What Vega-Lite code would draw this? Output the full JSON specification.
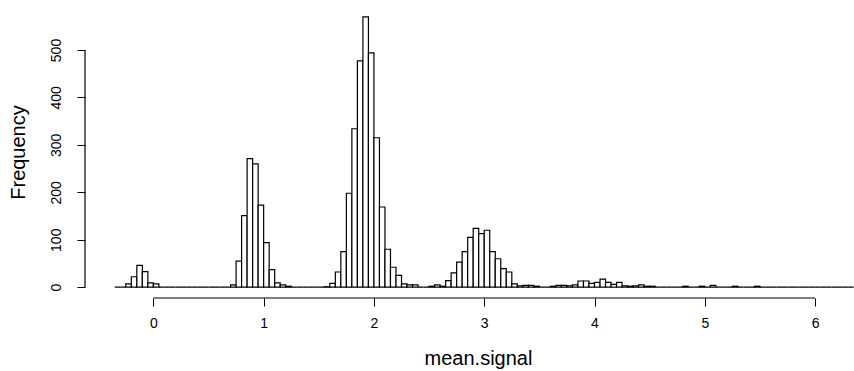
{
  "$schema": "https://vega.github.io/schema/vega-lite/v6.json",
  "width": 769,
  "height": 292,
  "autosize": {"type": "none"},
  "padding": {"left": 85, "top": 6, "right": 0, "bottom": 73},
  "background": "white",
  "config": {
    "view": {"stroke": null},
    "font": "Liberation Sans",
    "axis": {"labelFont": "Liberation Sans", "titleFont": "Liberation Sans", "labelColor": "black", "titleColor": "black", "tickColor": "black", "grid": false, "domain": false, "titleFontWeight": "normal"}
  },
  "datasets": {
    "bins": [
      {"start": -0.35, "end": -0.30, "count": 0},
      {"start": -0.30, "end": -0.25, "count": 0},
      {"start": -0.25, "end": -0.20, "count": 7},
      {"start": -0.20, "end": -0.15, "count": 22},
      {"start": -0.15, "end": -0.10, "count": 46},
      {"start": -0.10, "end": -0.05, "count": 33},
      {"start": -0.05, "end": 0.00, "count": 9},
      {"start": 0.00, "end": 0.05, "count": 7},
      {"start": 0.05, "end": 0.10, "count": 0},
      {"start": 0.10, "end": 0.15, "count": 0},
      {"start": 0.15, "end": 0.20, "count": 0},
      {"start": 0.20, "end": 0.25, "count": 0},
      {"start": 0.25, "end": 0.30, "count": 0},
      {"start": 0.30, "end": 0.35, "count": 0},
      {"start": 0.35, "end": 0.40, "count": 0},
      {"start": 0.40, "end": 0.45, "count": 0},
      {"start": 0.45, "end": 0.50, "count": 0},
      {"start": 0.50, "end": 0.55, "count": 0},
      {"start": 0.55, "end": 0.60, "count": 0},
      {"start": 0.60, "end": 0.65, "count": 0},
      {"start": 0.65, "end": 0.70, "count": 0},
      {"start": 0.70, "end": 0.75, "count": 5},
      {"start": 0.75, "end": 0.80, "count": 55},
      {"start": 0.80, "end": 0.85, "count": 151},
      {"start": 0.85, "end": 0.90, "count": 271},
      {"start": 0.90, "end": 0.95, "count": 260},
      {"start": 0.95, "end": 1.00, "count": 173},
      {"start": 1.00, "end": 1.05, "count": 94},
      {"start": 1.05, "end": 1.10, "count": 37},
      {"start": 1.10, "end": 1.15, "count": 9},
      {"start": 1.15, "end": 1.20, "count": 5},
      {"start": 1.20, "end": 1.25, "count": 2},
      {"start": 1.25, "end": 1.30, "count": 0},
      {"start": 1.30, "end": 1.35, "count": 0},
      {"start": 1.35, "end": 1.40, "count": 0},
      {"start": 1.40, "end": 1.45, "count": 0},
      {"start": 1.45, "end": 1.50, "count": 0},
      {"start": 1.50, "end": 1.55, "count": 0},
      {"start": 1.55, "end": 1.60, "count": 1},
      {"start": 1.60, "end": 1.65, "count": 8},
      {"start": 1.65, "end": 1.70, "count": 32},
      {"start": 1.70, "end": 1.75, "count": 75},
      {"start": 1.75, "end": 1.80, "count": 198},
      {"start": 1.80, "end": 1.85, "count": 334},
      {"start": 1.85, "end": 1.90, "count": 477},
      {"start": 1.90, "end": 1.95, "count": 570},
      {"start": 1.95, "end": 2.00, "count": 494},
      {"start": 2.00, "end": 2.05, "count": 315},
      {"start": 2.05, "end": 2.10, "count": 169},
      {"start": 2.10, "end": 2.15, "count": 80},
      {"start": 2.15, "end": 2.20, "count": 42},
      {"start": 2.20, "end": 2.25, "count": 25},
      {"start": 2.25, "end": 2.30, "count": 7},
      {"start": 2.30, "end": 2.35, "count": 5},
      {"start": 2.35, "end": 2.40, "count": 5},
      {"start": 2.40, "end": 2.45, "count": 0},
      {"start": 2.45, "end": 2.50, "count": 0},
      {"start": 2.50, "end": 2.55, "count": 2},
      {"start": 2.55, "end": 2.60, "count": 5},
      {"start": 2.60, "end": 2.65, "count": 2},
      {"start": 2.65, "end": 2.70, "count": 14},
      {"start": 2.70, "end": 2.75, "count": 30},
      {"start": 2.75, "end": 2.80, "count": 53},
      {"start": 2.80, "end": 2.85, "count": 75},
      {"start": 2.85, "end": 2.90, "count": 105},
      {"start": 2.90, "end": 2.95, "count": 124},
      {"start": 2.95, "end": 3.00, "count": 113},
      {"start": 3.00, "end": 3.05, "count": 120},
      {"start": 3.05, "end": 3.10, "count": 75},
      {"start": 3.10, "end": 3.15, "count": 60},
      {"start": 3.15, "end": 3.20, "count": 39},
      {"start": 3.20, "end": 3.25, "count": 32},
      {"start": 3.25, "end": 3.30, "count": 7},
      {"start": 3.30, "end": 3.35, "count": 3},
      {"start": 3.35, "end": 3.40, "count": 4},
      {"start": 3.40, "end": 3.45, "count": 4},
      {"start": 3.45, "end": 3.50, "count": 2},
      {"start": 3.50, "end": 3.55, "count": 0},
      {"start": 3.55, "end": 3.60, "count": 0},
      {"start": 3.60, "end": 3.65, "count": 2},
      {"start": 3.65, "end": 3.70, "count": 4},
      {"start": 3.70, "end": 3.75, "count": 4},
      {"start": 3.75, "end": 3.80, "count": 3},
      {"start": 3.80, "end": 3.85, "count": 5},
      {"start": 3.85, "end": 3.90, "count": 13},
      {"start": 3.90, "end": 3.95, "count": 13},
      {"start": 3.95, "end": 4.00, "count": 8},
      {"start": 4.00, "end": 4.05, "count": 10},
      {"start": 4.05, "end": 4.10, "count": 17},
      {"start": 4.10, "end": 4.15, "count": 10},
      {"start": 4.15, "end": 4.20, "count": 6},
      {"start": 4.20, "end": 4.25, "count": 10},
      {"start": 4.25, "end": 4.30, "count": 3},
      {"start": 4.30, "end": 4.35, "count": 2},
      {"start": 4.35, "end": 4.40, "count": 3},
      {"start": 4.40, "end": 4.45, "count": 5},
      {"start": 4.45, "end": 4.50, "count": 2},
      {"start": 4.50, "end": 4.55, "count": 2},
      {"start": 4.55, "end": 4.60, "count": 0},
      {"start": 4.60, "end": 4.65, "count": 0},
      {"start": 4.65, "end": 4.70, "count": 0},
      {"start": 4.70, "end": 4.75, "count": 0},
      {"start": 4.75, "end": 4.80, "count": 0},
      {"start": 4.80, "end": 4.85, "count": 2},
      {"start": 4.85, "end": 4.90, "count": 0},
      {"start": 4.90, "end": 4.95, "count": 0},
      {"start": 4.95, "end": 5.00, "count": 2},
      {"start": 5.00, "end": 5.05, "count": 0},
      {"start": 5.05, "end": 5.10, "count": 4},
      {"start": 5.10, "end": 5.15, "count": 0},
      {"start": 5.15, "end": 5.20, "count": 0},
      {"start": 5.20, "end": 5.25, "count": 0},
      {"start": 5.25, "end": 5.30, "count": 2},
      {"start": 5.30, "end": 5.35, "count": 0},
      {"start": 5.35, "end": 5.40, "count": 0},
      {"start": 5.40, "end": 5.45, "count": 0},
      {"start": 5.45, "end": 5.50, "count": 2},
      {"start": 5.50, "end": 5.55, "count": 0},
      {"start": 5.55, "end": 5.60, "count": 0},
      {"start": 5.60, "end": 5.65, "count": 0},
      {"start": 5.65, "end": 5.70, "count": 0},
      {"start": 5.70, "end": 5.75, "count": 0},
      {"start": 5.75, "end": 5.80, "count": 0},
      {"start": 5.80, "end": 5.85, "count": 0},
      {"start": 5.85, "end": 5.90, "count": 0},
      {"start": 5.90, "end": 5.95, "count": 0},
      {"start": 5.95, "end": 6.00, "count": 0},
      {"start": 6.00, "end": 6.05, "count": 0},
      {"start": 6.05, "end": 6.10, "count": 0},
      {"start": 6.10, "end": 6.15, "count": 0},
      {"start": 6.15, "end": 6.20, "count": 0},
      {"start": 6.20, "end": 6.25, "count": 0},
      {"start": 6.25, "end": 6.30, "count": 0},
      {"start": 6.30, "end": 6.35, "count": 0}
    ],
    "xaxis": [{"from": 0, "to": 6}],
    "yaxis": [{"from": 0, "to": 500}]
  },
  "layer": [
    {
      "data": {"name": "bins"},
      "mark": {"type": "rect", "fill": "white", "stroke": "black", "strokeWidth": 1.2, "clip": true},
      "encoding": {
        "x": {
          "field": "start", "type": "quantitative",
          "scale": {"domain": [-0.62, 6.353], "nice": false, "zero": false},
          "axis": {"values": [0, 1, 2, 3, 4, 5, 6], "format": "d", "tickSize": 8, "labelFontSize": 14, "labelPadding": 10, "title": "mean.signal", "titleFontSize": 20, "titlePadding": 18, "titleX": 393, "labelFlush": false}
        },
        "x2": {"field": "end"},
        "y": {
          "field": "count", "type": "quantitative",
          "scale": {"domain": [-22.8, 592.8], "nice": false, "zero": false},
          "axis": {"values": [0, 100, 200, 300, 400, 500], "format": "d", "tickSize": 8, "labelFontSize": 14, "labelAngle": -90, "labelAlign": "center", "labelBaseline": "bottom", "labelPadding": 14, "title": "Frequency", "titleFontSize": 20, "titlePadding": 21}
        },
        "y2": {"datum": 0}
      }
    },
    {
      "data": {"name": "xaxis"},
      "mark": {"type": "rule", "color": "black", "strokeWidth": 1.2},
      "encoding": {
        "x": {"field": "from", "type": "quantitative"},
        "x2": {"field": "to"},
        "y": {"datum": -22.8}
      }
    },
    {
      "data": {"name": "yaxis"},
      "mark": {"type": "rule", "color": "black", "strokeWidth": 1.2},
      "encoding": {
        "y": {"field": "from", "type": "quantitative"},
        "y2": {"field": "to"},
        "x": {"datum": -0.62}
      }
    }
  ]
}
